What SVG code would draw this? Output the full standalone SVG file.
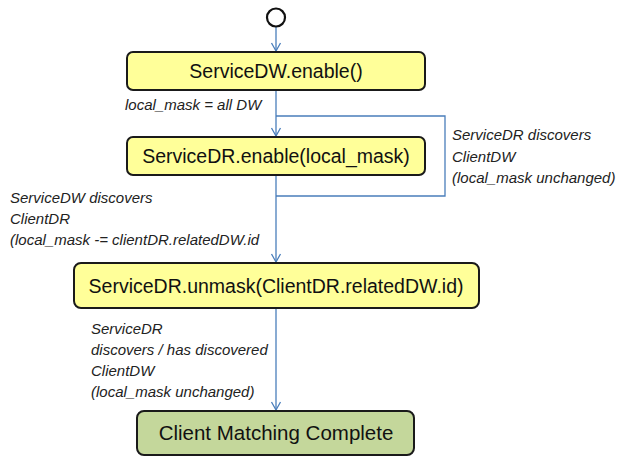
<svg xmlns="http://www.w3.org/2000/svg" width="619" height="458" viewBox="0 0 619 458">
<defs>
<marker id="arr" markerWidth="12" markerHeight="12" refX="10" refY="6" orient="auto" markerUnits="userSpaceOnUse" viewBox="0 0 12 12">
<path d="M2,1.5 L10,6 L2,10.5" fill="none" stroke="#4A7EBB" stroke-width="1.3"/>
</marker>
</defs>
<style>
.box{stroke:#1a1a1a;stroke-width:2}
.yel{fill:#FFFF99}
.grn{fill:#C4D79B}
.bt{font-family:"Liberation Sans",Arial,sans-serif;font-size:19.5px;fill:#111;text-anchor:middle}
.lb{font-family:"Liberation Sans",Arial,sans-serif;font-size:15px;font-style:italic;fill:#222}
.cn{fill:none;stroke:#4A7EBB;stroke-width:1.3}
</style>
<rect width="619" height="458" fill="#ffffff"/>
<g id="connectors">
<line class="cn" x1="276" y1="27" x2="276" y2="51" marker-end="url(#arr)"/>
<line class="cn" x1="276" y1="91" x2="276" y2="136" marker-end="url(#arr)"/>
<polyline class="cn" points="276,116 445,116 445,196 276,196"/>
<line class="cn" x1="276" y1="175" x2="276" y2="262" marker-end="url(#arr)"/>
<line class="cn" x1="276" y1="309" x2="276" y2="410" marker-end="url(#arr)"/>
</g>
<g id="start">
<circle cx="276" cy="17.5" r="9" fill="#ffffff" stroke="#111" stroke-width="2.2"/>
</g>
<g id="n1">
<rect class="box yel" x="127" y="52" width="298" height="38" rx="6"/>
<text class="bt" x="276" y="78">ServiceDW.enable()</text>
</g>
<g id="n2">
<rect class="box yel" x="127" y="137" width="298" height="38" rx="6"/>
<text class="bt" x="276" y="163">ServiceDR.enable(local_mask)</text>
</g>
<g id="n3">
<rect class="box yel" x="74" y="263" width="405" height="45" rx="7"/>
<text class="bt" x="276" y="292.5">ServiceDR.unmask(ClientDR.relatedDW.id)</text>
</g>
<g id="n4">
<rect class="box grn" x="137" y="411" width="277" height="44" rx="7"/>
<text class="bt" x="276" y="440" style="font-size:20.5px">Client Matching Complete</text>
</g>
<g id="labels">
<text class="lb" x="125" y="110">local_mask = all DW</text>
<text class="lb" x="452" y="140">ServiceDR discovers</text>
<text class="lb" x="452" y="162">ClientDW</text>
<text class="lb" x="452" y="183">(local_mask unchanged)</text>
<text class="lb" x="10" y="203">ServiceDW discovers</text>
<text class="lb" x="10" y="224">ClientDR</text>
<text class="lb" x="10" y="245">(local_mask -= clientDR.relatedDW.id</text>
<text class="lb" x="91" y="334">ServiceDR</text>
<text class="lb" x="91" y="355">discovers / has discovered</text>
<text class="lb" x="91" y="376">ClientDW</text>
<text class="lb" x="91" y="397">(local_mask unchanged)</text>
</g>
</svg>
